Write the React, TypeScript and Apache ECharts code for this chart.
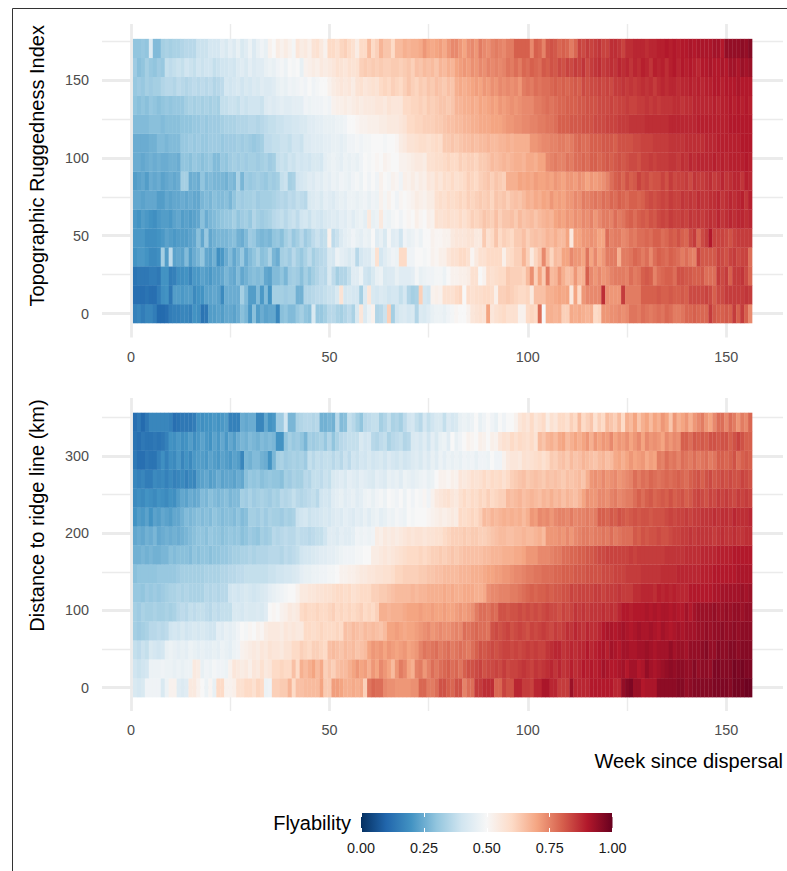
import React, { useEffect, useRef } from "react";
import * as echarts from "echarts";

const palette = ["#053061", "#2166AC", "#4393C3", "#92C5DE", "#D1E5F0", "#F7F7F7", "#FDDBC7", "#F4A582", "#D6604D", "#B2182B", "#67001F"];
const triBinWidth = 12.17;
const distBinWidth = 24.55;

// Flyability in hundredths, one row per bin (bottom row first), weeks 1..156.
const tri00 = [16,17,15,17,17,15,11,11,12,15,16,16,
17,17,16,20,19,13,14,22,22,23,22,24,
24,23,25,29,27,21,29,22,25,23,24,24,
17,29,30,28,28,31,33,30,29,42,31,31,
33,36,36,34,33,35,37,34,42,56,43,47,
52,35,36,39,62,33,40,42,43,41,42,35,
43,42,44,46,47,47,46,48,49,51,50,50,
52,56,57,58,57,70,56,58,59,60,58,58,
58,52,52,60,61,60,78,50,68,68,67,68,
62,62,69,68,69,68,67,68,60,61,72,72,
73,73,74,73,74,77,77,76,78,77,76,77,
78,77,79,78,76,76,77,79,79,80,79,79,
79,85,81,80,80,81,80,85,80,85,80,74];
const tri01 = [12,12,12,13,12,12,15,19,20,14,22,22,
21,22,22,18,20,20,23,23,24,23,18,25,
25,25,25,33,28,22,22,28,21,28,20,33,
33,33,32,33,33,26,26,35,35,36,37,37,
38,39,39,42,57,41,42,41,41,33,43,56,
42,41,43,42,40,41,41,38,41,35,33,34,
62,41,40,52,53,52,58,58,58,60,61,50,
59,58,59,59,60,60,59,53,62,62,63,62,
61,60,60,61,55,65,65,65,68,68,69,70,
69,70,55,70,60,72,74,74,74,74,87,73,
72,72,72,85,76,76,76,76,80,80,80,80,
81,80,80,81,80,80,81,80,83,83,83,83,
84,83,80,83,83,85,85,85,85,85,86,85];
const tri02 = [13,14,14,14,15,15,14,20,20,15,16,19,
19,20,17,21,21,23,22,21,23,23,24,27,
25,24,28,24,26,28,29,28,29,24,23,28,
28,30,27,32,33,32,29,33,30,33,35,37,
36,42,37,33,35,35,38,44,44,47,40,39,
42,46,47,42,43,43,46,44,44,44,45,49,
46,47,48,48,49,49,47,50,52,52,53,53,
54,58,58,50,52,59,58,59,60,60,63,62,
62,62,61,66,73,62,70,63,76,66,67,72,
68,65,66,72,67,68,80,74,72,74,72,73,
75,76,76,76,75,78,76,77,80,81,80,75,
78,79,80,80,78,82,82,81,81,80,80,81,
78,78,78,85,83,85,80,85,85,86,83,79];
const tri03 = [20,21,21,20,18,18,19,33,22,37,23,24,
23,28,22,25,27,30,24,23,26,19,21,25,
28,24,27,31,25,28,30,33,29,30,34,27,
25,33,34,32,36,33,31,34,37,33,35,36,
37,42,41,47,45,44,42,44,36,41,43,43,
47,58,41,44,46,48,47,60,60,48,48,50,
50,49,50,52,51,53,53,56,58,58,60,60,
58,51,55,58,58,60,60,60,60,53,59,60,
62,62,67,62,55,61,64,74,66,61,66,65,
70,70,74,72,72,70,77,70,74,70,72,76,
76,76,68,76,76,77,79,78,76,78,74,78,
80,79,78,80,79,78,76,78,76,75,84,81,
81,81,81,84,83,82,84,85,83,84,84,78];
const tri04 = [21,21,21,19,19,19,20,21,23,22,21,22,
22,22,23,24,29,24,31,24,26,27,27,27,
28,29,26,25,28,32,31,28,27,28,27,30,
31,29,33,35,31,33,36,32,34,37,39,37,
38,52,37,39,43,45,46,48,46,45,47,46,
50,44,46,42,49,44,45,40,48,46,47,49,
47,50,50,52,51,51,52,52,55,56,56,56,
57,57,55,55,63,58,60,64,60,62,61,60,
63,63,65,62,64,65,64,65,67,66,68,66,
66,70,55,70,70,72,72,73,72,70,70,78,
75,76,76,74,75,77,76,78,78,79,78,80,
80,78,79,81,80,82,80,79,83,85,79,83,
85,90,84,84,84,83,82,84,85,85,85,85];
const tri05 = [21,20,22,21,20,19,21,22,22,21,23,24,
22,23,22,23,24,29,25,27,28,29,30,31,
31,33,30,32,33,31,35,33,32,33,34,36,
37,38,36,38,39,37,40,41,39,42,41,40,
42,43,44,43,45,44,46,44,46,47,45,55,
46,47,55,48,47,49,50,48,50,51,50,53,
51,50,53,52,58,57,58,59,58,58,60,58,
60,62,61,62,64,63,62,65,62,64,64,65,
63,66,64,65,66,64,66,67,68,67,70,71,
70,72,71,73,72,74,73,75,72,74,76,76,
75,78,76,77,79,80,78,80,81,80,82,81,
83,84,83,85,84,84,85,84,86,85,86,85,
86,87,86,88,86,87,88,87,88,88,87,88];
const tri06 = [24,24,23,24,24,24,22,22,24,23,24,24,
25,24,25,24,24,27,28,27,29,28,28,29,
27,30,33,32,33,33,34,32,33,33,33,34,
35,36,35,37,36,38,37,36,42,43,44,42,
45,44,43,45,46,45,47,47,46,47,48,46,
48,47,52,49,52,50,48,51,50,51,52,54,
53,52,54,54,58,59,58,60,59,60,61,60,
62,61,62,63,62,63,61,64,63,64,62,64,
65,64,66,68,67,69,68,70,69,72,70,71,
70,72,72,74,73,76,75,76,77,76,78,77,
79,78,80,79,78,80,80,79,80,82,83,82,
83,84,83,85,84,84,86,85,86,85,87,86,
86,87,87,88,86,87,88,87,88,89,86,89];
const tri07 = [22,23,24,22,25,24,25,23,24,25,24,25,
33,33,25,26,25,30,27,28,27,27,27,26,
28,27,34,27,32,31,32,33,32,31,33,32,
33,38,39,33,34,40,41,42,44,43,45,44,
46,45,47,46,48,47,46,48,49,47,50,48,
50,48,52,50,49,52,51,48,53,52,54,52,
54,53,56,55,58,56,59,58,60,58,59,60,
62,61,60,62,63,64,62,64,63,62,68,68,
68,70,69,70,69,71,70,70,71,70,72,71,
70,72,72,71,73,72,70,72,71,72,73,75,
78,80,81,79,82,80,81,84,82,83,81,82,
82,84,82,85,83,84,84,85,83,86,85,85,
86,87,85,86,88,86,87,88,88,86,89,88];
const tri08 = [25,25,24,25,26,25,26,25,25,26,26,25,
30,30,29,31,30,29,30,31,28,28,31,30,
32,33,32,33,32,33,33,32,33,34,32,33,
38,39,38,40,39,41,40,41,40,42,42,41,
45,46,47,46,45,47,46,47,46,48,50,49,
50,51,50,52,51,50,50,52,52,53,54,55,
55,54,58,58,59,59,60,61,60,60,62,61,
62,62,61,63,63,64,66,65,66,67,66,67,
68,68,67,69,69,68,70,70,74,75,76,75,
75,77,76,78,78,79,78,80,80,79,80,81,
80,81,82,81,82,83,83,82,84,84,85,84,
85,85,85,86,86,85,87,86,88,87,88,88,
88,88,89,88,89,88,89,89,89,89,90,89];
const tri09 = [25,25,25,25,26,26,28,28,27,28,28,28,
31,31,32,31,32,31,31,32,32,32,31,32,
32,32,33,32,33,32,31,32,33,37,37,38,
38,39,39,38,40,40,39,43,43,44,44,44,
45,45,46,46,45,46,48,48,49,48,49,49,
50,50,50,49,50,50,51,54,55,57,57,58,
59,59,58,59,60,59,63,63,64,63,64,65,
65,66,65,66,66,67,66,66,67,67,68,67,
68,68,68,68,72,72,73,74,74,75,75,76,
76,75,76,78,79,78,78,80,80,80,81,81,
81,80,82,82,82,82,83,83,84,84,84,85,
85,85,85,86,86,86,86,87,87,87,87,87,
88,88,88,89,89,89,89,89,89,90,90,90];
const tri10 = [28,28,28,28,29,29,29,28,29,29,29,29,
30,30,30,31,31,32,31,32,32,32,33,34,
34,34,35,35,35,36,36,35,36,37,38,38,
39,39,40,40,41,41,42,42,44,44,45,45,
46,46,46,47,47,48,50,50,51,52,52,53,
53,53,54,54,55,55,55,56,57,60,60,61,
61,62,62,62,63,63,64,65,65,66,66,67,
67,68,68,69,69,69,70,70,70,71,72,72,
73,73,74,74,75,75,76,76,77,77,78,80,
80,80,81,81,81,82,82,82,83,83,83,84,
84,84,85,85,85,86,86,86,86,87,87,87,
87,87,87,88,88,88,88,88,88,88,89,89,
89,89,89,89,89,89,90,90,90,90,90,90];
const tri11 = [30,29,30,29,31,30,29,30,31,30,31,31,
31,33,34,33,34,33,34,33,34,33,38,38,
39,39,38,40,39,40,40,40,39,43,44,43,
44,45,44,44,45,45,45,48,47,48,48,48,
49,48,52,53,53,54,53,54,55,54,55,55,
55,56,56,55,57,56,56,56,60,60,61,61,
62,61,63,62,63,64,64,63,64,67,67,68,
68,69,68,70,69,70,71,70,72,71,72,73,
72,73,74,74,74,76,76,77,78,77,78,79,
79,80,80,80,81,81,82,82,82,83,83,83,
84,83,84,84,85,84,84,85,85,86,85,86,
85,86,86,86,87,87,86,87,87,88,88,88,
88,88,89,88,89,89,90,89,90,89,90,89];
const tri12 = [31,32,31,33,32,33,33,35,36,36,35,37,
36,35,36,37,36,37,36,37,35,36,37,41,
40,41,42,40,42,41,43,42,44,43,43,44,
46,47,46,48,47,48,49,48,50,48,49,50,
50,52,54,55,56,55,56,54,57,58,56,57,
58,57,60,61,60,62,61,60,62,64,62,61,
63,62,64,63,65,64,63,65,64,68,69,68,
69,70,71,70,72,71,73,72,74,73,74,73,
74,72,76,77,76,78,77,78,78,79,80,79,
80,79,80,81,80,83,82,83,83,84,83,84,
83,85,85,86,85,86,85,86,87,86,87,85,
87,88,87,88,88,87,88,88,89,88,89,88,
89,89,90,90,89,90,90,90,91,90,90,90];
const tri13 = [32,29,30,33,31,30,32,31,38,37,38,39,
38,40,39,38,40,39,40,40,38,39,40,40,
41,40,43,44,42,45,43,44,44,46,47,46,
48,49,47,50,49,50,46,52,53,54,53,55,
54,55,56,58,57,56,58,57,58,62,63,62,
63,62,63,62,62,63,63,62,63,64,62,65,
64,66,65,66,64,67,66,68,67,70,71,72,
71,73,72,74,73,75,74,75,74,75,77,76,
78,76,79,78,80,79,78,81,80,82,81,83,
82,84,83,85,84,86,83,85,86,87,85,86,
87,86,88,87,88,86,88,87,89,88,86,89,
88,89,87,89,90,88,90,89,90,89,88,90,
90,91,90,90,91,90,92,92,91,93,92,93];
const tri14 = [30,30,31,30,43,28,28,33,34,33,34,34,
35,36,36,36,39,39,39,41,41,41,44,42,
45,43,46,42,44,47,43,46,48,46,52,50,
54,52,54,52,49,56,54,55,53,57,58,55,
52,60,60,58,61,62,60,58,54,60,60,66,
60,62,67,64,64,60,66,66,68,67,68,68,
69,72,70,69,70,71,69,72,74,74,72,70,
73,74,72,76,74,73,75,76,75,74,76,76,
80,80,80,80,74,80,79,75,81,82,81,79,
80,79,76,79,84,83,85,84,85,86,84,84,
87,87,86,84,87,87,88,88,88,87,88,88,
89,89,90,89,90,89,90,90,91,90,91,91,
91,91,92,92,90,94,94,94,94,95,94,96];
const triRows = [tri00, tri01, tri02, tri03, tri04, tri05, tri06, tri07, tri08, tri09, tri10, tri11, tri12, tri13, tri14];

const dist00 = [42,41,42,48,48,48,48,42,47,52,52,44,
43,44,55,55,52,50,47,51,46,60,60,52,
52,53,58,58,60,60,58,61,60,47,48,62,
62,63,63,67,60,65,65,66,66,66,66,70,
63,63,71,71,70,68,68,69,68,69,62,77,
79,78,78,74,73,73,72,72,72,72,73,73,
79,79,76,76,78,82,82,80,79,82,82,75,
78,78,85,85,87,87,87,79,79,84,82,82,
88,88,85,85,84,88,88,91,91,88,88,85,
85,85,93,88,88,88,88,90,90,90,90,90,
90,88,88,94,96,97,93,93,90,91,91,91,
95,95,95,95,95,96,96,94,95,96,96,96,
96,96,97,97,97,97,96,98,98,98,99,99];
const dist01 = [40,39,40,41,47,47,47,48,47,47,46,47,
46,47,47,55,54,46,48,47,49,48,48,47,
52,56,55,54,55,53,56,55,58,55,56,60,
60,61,60,60,65,60,68,66,68,70,66,69,
62,64,62,65,66,66,68,70,72,70,71,68,
72,70,74,72,70,66,72,76,74,70,68,75,
76,72,75,78,76,78,79,80,78,79,77,80,
82,82,83,84,82,83,83,84,83,85,83,84,
84,85,86,85,84,86,85,86,87,88,86,88,
86,87,89,87,88,90,89,90,89,90,92,91,
90,90,91,92,90,92,92,90,91,94,92,91,
92,93,94,95,94,95,95,94,94,96,94,95,
95,94,97,97,96,96,96,98,97,98,97,97];
const dist02 = [38,37,39,38,42,41,40,41,46,47,46,45,
46,45,47,46,45,46,45,45,46,45,47,46,
45,47,48,52,53,54,55,54,56,55,57,56,
56,55,57,57,60,60,62,61,60,62,62,61,
60,65,66,65,64,66,65,66,64,65,66,70,
72,71,72,70,72,71,70,71,72,70,71,72,
75,77,76,77,78,76,77,78,76,77,78,77,
76,78,80,82,81,82,83,82,83,84,84,83,
84,83,84,85,84,85,84,84,86,87,88,88,
86,87,88,87,88,88,90,88,89,90,91,89,
92,91,90,92,92,91,91,92,92,93,92,91,
92,92,92,94,92,93,93,92,94,94,94,95,
96,94,94,96,95,95,96,96,95,96,96,96];
const dist03 = [33,32,33,34,36,36,37,36,37,40,41,40,
42,40,41,42,41,42,41,40,40,45,44,46,
45,46,48,50,49,51,50,52,51,54,55,55,
55,54,56,55,56,55,55,60,60,59,60,61,
60,60,60,61,60,65,64,66,65,64,66,65,
66,65,64,66,70,70,71,70,69,70,70,71,
72,73,74,72,73,74,73,73,74,75,74,78,
77,78,79,78,78,77,82,83,82,83,84,82,
83,84,83,82,84,83,84,85,84,83,85,84,
85,87,86,88,87,86,88,87,87,88,90,91,
91,90,91,92,91,90,91,92,91,91,92,91,
90,92,91,90,91,92,91,92,92,92,93,93,
94,93,94,94,95,94,94,95,94,95,95,95];
const dist04 = [33,32,34,33,33,34,33,33,34,33,34,36,
37,36,38,37,38,38,37,36,38,37,38,38,
38,42,42,41,43,42,42,43,42,44,50,51,
50,52,53,55,54,55,60,61,60,60,61,60,
60,61,62,60,61,60,61,60,61,62,60,61,
60,62,68,68,67,68,68,68,69,70,70,70,
71,70,70,71,70,70,71,70,70,71,72,71,
72,73,76,78,78,77,79,78,82,82,81,82,
82,83,82,83,82,83,82,83,84,83,83,82,
84,83,84,86,85,86,85,86,86,86,87,86,
87,86,88,90,90,89,90,90,90,91,90,91,
90,91,91,90,91,90,90,92,90,92,93,93,
93,93,94,93,93,94,93,94,94,93,94,94];
const dist05 = [31,31,30,32,31,32,31,32,33,34,34,35,
34,35,34,34,34,34,36,35,36,35,36,36,
40,41,40,41,42,41,40,41,42,43,45,46,
47,48,49,50,50,52,55,55,56,56,57,57,
58,58,59,60,60,59,60,58,59,60,60,60,
62,62,63,63,64,65,66,66,66,66,67,66,
67,67,68,68,68,68,69,68,69,68,68,69,
69,69,68,68,69,73,74,74,75,75,75,76,
76,77,78,79,80,79,80,80,81,80,81,81,
82,82,84,83,84,84,84,84,85,85,84,85,
85,85,86,85,85,85,87,87,88,88,88,87,
89,88,89,88,89,88,88,88,90,90,90,90,
90,90,91,91,92,92,92,92,92,93,92,93];
const dist06 = [29,30,30,30,30,30,31,31,31,31,31,32,
33,33,33,33,33,33,34,34,34,34,35,35,
36,36,37,37,38,38,38,38,38,38,39,39,
40,40,41,41,42,43,45,46,46,47,47,48,
48,49,49,50,52,52,53,53,54,55,55,56,
56,57,57,58,58,59,61,61,62,62,62,62,
63,63,64,64,65,65,66,66,66,66,67,67,
67,68,68,68,69,70,70,71,71,72,72,73,
74,74,75,76,76,77,77,78,78,78,79,79,
80,80,80,81,81,81,82,82,82,82,83,83,
83,84,84,84,85,85,85,85,86,86,86,86,
86,87,87,87,87,88,88,88,88,88,88,89,
89,89,90,90,90,90,90,90,91,91,91,91];
const dist07 = [26,26,27,26,27,26,26,27,27,29,28,29,
29,29,28,30,29,30,30,29,30,30,31,31,
32,33,33,34,34,35,34,35,35,35,36,36,
36,35,37,36,37,38,40,41,41,42,43,44,
44,45,45,46,47,48,48,48,49,49,50,50,
54,54,55,56,55,56,57,58,59,60,60,60,
61,60,61,62,62,63,62,63,64,63,64,65,
65,65,65,65,66,66,67,67,67,68,68,68,
69,69,70,72,72,72,74,74,74,75,76,76,
78,78,79,79,80,80,81,81,82,83,83,84,
84,84,84,84,84,85,84,85,85,85,85,85,
85,85,86,86,86,86,86,87,87,87,87,88,
88,88,88,89,89,89,89,90,90,90,90,90];
const dist08 = [24,25,24,26,25,27,24,25,26,25,26,25,
26,27,28,29,30,30,29,31,30,30,29,30,
31,30,31,29,30,32,31,30,33,32,33,36,
35,36,37,36,36,38,37,37,36,37,38,38,
40,44,44,43,45,44,44,45,48,47,48,47,
48,54,53,55,54,55,54,55,56,57,56,57,
57,56,57,57,58,58,60,61,62,62,62,63,
62,63,63,62,62,63,64,65,66,66,65,65,
66,66,67,66,66,67,68,66,72,72,72,73,
72,74,72,74,75,76,76,75,76,76,77,76,
78,76,77,78,78,78,81,80,82,81,82,82,
83,82,82,83,84,84,85,85,86,85,86,86,
86,86,85,86,87,86,86,87,86,86,87,87];
const dist09 = [20,22,21,23,20,23,22,24,23,22,24,24,
26,28,27,28,29,28,29,28,30,29,28,29,
29,28,30,28,29,33,33,32,34,32,34,33,
33,32,34,33,34,39,40,41,39,40,40,41,
42,41,43,44,43,45,44,43,45,44,46,44,
46,47,45,46,48,47,49,48,47,50,49,50,
50,50,51,52,53,54,53,54,55,54,60,59,
60,61,60,62,66,65,67,66,67,68,67,68,
67,68,66,68,72,71,74,73,74,72,74,75,
75,74,76,74,75,75,76,75,76,80,80,79,
81,80,82,81,80,81,82,81,82,82,81,82,
82,82,83,84,83,84,84,85,84,85,85,86,
86,86,87,86,87,87,86,88,87,87,87,88];
const dist10 = [18,19,18,20,19,18,20,19,18,20,19,22,
24,23,25,24,25,28,27,29,28,27,28,29,
27,28,28,33,32,34,32,33,34,33,32,34,
33,36,35,36,38,36,35,36,37,38,36,40,
41,40,44,45,46,44,45,46,44,45,47,48,
46,48,49,47,50,49,48,50,47,50,48,50,
49,51,48,52,55,56,57,58,56,55,58,60,
58,60,59,61,60,62,60,61,62,62,66,65,
66,67,65,66,67,66,65,67,66,68,66,67,
65,67,66,65,67,70,73,72,72,74,74,73,
75,76,74,75,76,76,78,80,78,80,81,79,
80,81,80,82,80,81,82,80,81,83,84,83,
82,84,83,85,84,85,84,83,85,84,85,84];
const dist11 = [17,16,17,15,15,18,17,18,16,18,16,17,
18,16,18,17,22,23,24,22,23,25,23,24,
24,23,25,24,29,31,30,31,29,30,31,30,
30,29,33,32,34,33,33,36,35,38,38,37,
39,38,42,43,44,42,45,44,43,45,44,43,
42,45,44,43,46,45,46,44,47,46,45,46,
47,48,46,47,50,52,52,51,53,52,56,55,
56,58,57,58,60,58,60,59,60,58,60,62,
63,64,65,63,64,65,64,63,65,64,65,64,
63,65,64,65,66,64,68,72,73,72,74,72,
73,74,72,73,74,75,78,76,78,77,79,78,
77,78,79,78,79,80,79,78,80,81,82,80,
82,83,81,82,83,82,83,82,82,84,83,82];
const dist12 = [14,12,12,14,13,13,16,19,16,19,18,21,
17,20,18,21,22,22,21,23,22,21,23,22,
21,23,22,17,27,26,28,28,26,25,20,27,
33,34,32,33,34,33,34,32,38,36,38,37,
38,38,36,38,36,39,37,40,39,41,40,42,
40,41,42,40,43,41,40,42,40,41,43,44,
42,45,43,46,44,47,45,47,46,47,46,48,
47,48,46,48,48,47,50,48,48,52,55,56,
56,55,58,57,58,59,60,58,60,63,62,64,
65,63,66,64,65,67,66,65,64,66,67,65,
66,69,70,68,70,72,70,71,72,69,71,70,
76,75,78,76,77,75,78,77,76,78,76,77,
78,76,77,80,80,79,80,82,78,80,81,80];
const dist13 = [13,12,14,13,13,14,13,14,16,20,19,21,
19,20,22,19,21,23,21,20,23,21,24,21,
24,22,25,27,26,28,27,26,28,27,28,27,
20,20,30,33,31,32,30,27,33,32,33,34,
31,35,30,34,36,37,38,38,38,42,40,41,
36,35,37,38,34,36,37,38,35,36,42,43,
41,44,40,45,42,46,47,44,50,46,48,50,
52,51,50,53,52,50,53,52,56,58,57,60,
58,60,59,58,60,57,66,64,67,68,66,69,
70,66,68,70,68,70,72,68,72,70,72,71,
74,70,72,71,73,70,72,74,70,74,72,73,
72,70,74,72,74,73,80,80,78,81,80,81,
80,82,82,81,82,82,80,82,84,82,80,80];
const dist14 = [12,14,11,14,17,17,17,17,17,16,12,13,
14,14,14,15,20,19,20,20,21,20,21,22,
16,16,16,25,24,25,25,17,17,24,20,21,
32,32,40,27,27,34,35,36,36,35,36,26,
26,27,26,36,28,29,38,36,33,30,36,37,
38,38,33,35,38,34,35,33,37,40,41,38,
36,41,38,40,42,42,38,43,41,42,46,47,
46,47,50,46,48,50,48,46,50,48,50,50,
52,56,58,56,60,56,58,60,54,58,56,60,
60,58,62,60,66,60,62,64,58,62,60,66,
64,62,66,60,68,66,70,64,68,70,66,70,
68,72,70,64,72,68,70,72,68,72,74,76,
72,70,74,78,78,74,78,76,72,76,74,79];
const distRows = [dist00, dist01, dist02, dist03, dist04, dist05, dist06, dist07, dist08, dist09, dist10, dist11, dist12, dist13, dist14];

const toCells = (rows: number[][], binWidth: number) =>
  rows.flatMap((row, r) => row.map((v, w) => [w + 1, r * binWidth, v / 100, binWidth]));

const renderCell = (_p: any, api: any) => {
  const c = api.coord([api.value(0), api.value(1)]);
  const s = api.size([1, api.value(3)]);
  return {
    type: "rect",
    shape: { x: c[0] - s[0] / 2, y: c[1] - s[1] / 2, width: s[0] + 0.3, height: s[1] + 0.3 },
    style: { fill: api.visual("color") },
  };
};

const renderBar = (_p: any, api: any) => {
  const a = api.coord([0, 0]);
  const b = api.coord([1, 1]);
  return {
    type: "rect",
    shape: { x: a[0], y: b[1], width: b[0] - a[0], height: a[1] - b[1] },
    style: {
      fill: new echarts.graphic.LinearGradient(0, 0, 1, 0,
        palette.map((color, i) => ({ offset: i / (palette.length - 1), color }))),
    },
  };
};

const FONT = "'Liberation Sans', Arial, sans-serif";
const TITLE_SIZE = 20;
const TICK_SIZE = 14.4;

const panelAxes = (
  gridIndex: number,
  yMin: number,
  yMax: number,
  yStep: number,
  yName: string,
  namePad: number,
  extraX: any,
) => {
  const showOnly = (step: number) => (v: number) => (v % step === 0 && v >= 0 && v <= 300 ? String(v) : "");
  return {
    x: {
      type: "value", gridIndex, min: -7.3, max: 164.3, splitNumber: 3,
      axisLine: { show: false }, axisTick: { show: false },
      axisLabel: { color: "#4d4d4d", fontSize: TICK_SIZE, fontFamily: FONT, margin: 12, formatter: showOnly(50), showMinLabel: false, showMaxLabel: false },
      splitLine: { show: true, showMinLine: false, showMaxLine: false, lineStyle: { color: "#ebebeb", width: 2.8 } },
      minorTick: { show: false, splitNumber: 2 },
      minorSplitLine: { show: true, lineStyle: { color: "#ebebeb", width: 1.4 } },
      ...extraX,
    },
    y: {
      type: "value", gridIndex, min: yMin, max: yMax, splitNumber: 3,
      axisLine: { show: false }, axisTick: { show: false },
      axisLabel: { color: "#4d4d4d", fontSize: TICK_SIZE, fontFamily: FONT, margin: 13, formatter: showOnly(yStep), showMinLabel: false, showMaxLabel: false },
      splitLine: { show: true, showMinLine: false, showMaxLine: false, lineStyle: { color: "#ebebeb", width: 2.8 } },
      minorTick: { show: false, splitNumber: 2 },
      minorSplitLine: { show: true, lineStyle: { color: "#ebebeb", width: 1.4 } },
      name: yName, nameLocation: "middle", nameGap: 55, nameRotate: 90, nameMoveOverlap: false,
      nameTextStyle: { color: "#000", fontSize: TITLE_SIZE, fontFamily: FONT, padding: [0, 0, 0, namePad] },
    },
  };
};

export default function App() {
  const ref = useRef<HTMLDivElement>(null);
  useEffect(() => {
    const chart = echarts.init(ref.current!, null, { renderer: "svg" });
    const p1 = panelAxes(0, -15.4, 186, 50, "Topographic Ruggedness Index", 30, {});
    const p2 = panelAxes(1, -30.3, 375, 100, "Distance to ridge line (km)", 78, {
      name: "Week since dispersal", nameLocation: "end", nameGap: 0, nameMoveOverlap: false,
      nameTextStyle: { color: "#000", fontSize: TITLE_SIZE, fontFamily: FONT, align: "right", verticalAlign: "top", padding: [63, 0, 0, 0] },
    });
    const barX = {
      type: "value", gridIndex: 2, min: 0, max: 1, interval: 0.25,
      axisLine: { show: false }, z: 5,
      axisTick: { show: true, inside: true, length: 4, lineStyle: { color: "#fff", width: 1 } },
      splitLine: { show: false },
    };
    chart.setOption({
      animation: false,
      backgroundColor: "#fff",
      textStyle: { fontFamily: FONT },
      grid: [
        { left: 102, top: 24, width: 681, height: 313.5 },
        { left: 102, top: 398, width: 681, height: 313 },
        { left: 361, top: 813, width: 251.5, height: 19 },
      ],
      xAxis: [
        p1.x, p2.x,
        { ...barX, position: "bottom", axisLabel: { color: "#1a1a1a", fontSize: TICK_SIZE, fontFamily: FONT, margin: 9, formatter: (v: number) => v.toFixed(2) } },
        { ...barX, position: "top", axisLabel: { show: false } },
      ],
      yAxis: [p1.y, p2.y, { type: "value", gridIndex: 2, min: 0, max: 1, show: false }],
      visualMap: { show: false, type: "continuous", min: 0, max: 1, dimension: 2, seriesIndex: [0, 1], inRange: { color: palette } },
      series: [
        { type: "custom", xAxisIndex: 0, yAxisIndex: 0, renderItem: renderCell, data: toCells(triRows, triBinWidth), encode: { x: 0, y: 1 }, silent: true },
        { type: "custom", xAxisIndex: 1, yAxisIndex: 1, renderItem: renderCell, data: toCells(distRows, distBinWidth), encode: { x: 0, y: 1 }, silent: true },
        { type: "custom", xAxisIndex: 2, yAxisIndex: 2, renderItem: renderBar, data: [[0, 0]], silent: true },
      ],
      graphic: [
        { type: "polyline", shape: { points: [[12.5, 871], [12.5, 8.5], [787, 8.5]] }, style: { stroke: "#333", lineWidth: 1, fill: "none" }, silent: true },
        { type: "text", x: 351, y: 823, style: { text: "Flyability", fill: "#000", fontSize: TITLE_SIZE, fontFamily: FONT, align: "right", verticalAlign: "middle" }, silent: true },
      ],
    });
    return () => chart.dispose();
  }, []);
  return <div ref={ref} style={{ position: "absolute", left: 0, top: 0, width: 787, height: 871 }} />;
}
